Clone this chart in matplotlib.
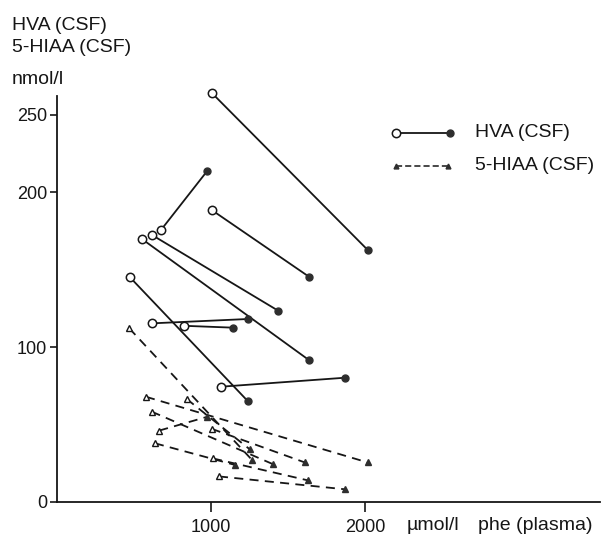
import matplotlib
matplotlib.use('Agg')
import matplotlib.pyplot as plt

# HVA (CSF): open circle = start, filled circle = end
hva_phe_start = [1005, 675, 1005, 552, 617, 474, 619, 827, 1065]
hva_start = [264, 175.5, 188.4, 169.7, 172.3, 145, 115.3, 113.7, 74.4]
hva_phe_end = [2018, 976, 1636, 1636, 1437, 1238, 1242, 1145, 1870]
hva_end = [162.6, 213.7, 145.4, 91.6, 123.4, 65.2, 118.1, 112.5, 80.2]

# 5-HIAA (CSF): open triangle = start, filled triangle = end
hiaa_phe_start = [469, 578, 615, 664, 636, 842, 1005, 1013, 1052]
hiaa_start = [112.1, 67.9, 58.3, 46.1, 37.9, 66.5, 47.2, 28.1, 16.5]
hiaa_phe_end = [1264, 2018, 1405, 976, 1156, 1253, 1610, 1632, 1870]
hiaa_end = [27.4, 25.5, 24.3, 55.0, 23.9, 33.9, 25.5, 13.9, 8.2]

y_ticks = [0, 100, 200, 250]
x_ticks = [1000, 2000]

INK = '#161616'
FILL = '#2e2e2e'
plt.rcParams['font.family'] = ['Liberation Sans', 'DejaVu Sans']

fig = plt.figure(figsize=(6.02, 5.4), dpi=100)
fig.patch.set_facecolor('white')
# axes: x=0 at 57px, y=0 at 502px, 1.55 px per nmol/l
ax = fig.add_axes([57 / 602, 38 / 540, 543 / 602, 406 / 540])

for x0, y0, x1, y1 in zip(hva_phe_start, hva_start, hva_phe_end, hva_end):
    ax.plot([x0, x1], [y0, y1], color=INK, lw=1.3, zorder=2, clip_on=False)
    ax.plot(x0, y0, 'o', ms=6, mfc='white', mec=INK, mew=1.1, zorder=3, clip_on=False)
    ax.plot(x1, y1, 'o', ms=5, mfc=FILL, mec=FILL, zorder=3, clip_on=False)

for x0, y0, x1, y1 in zip(hiaa_phe_start, hiaa_start, hiaa_phe_end, hiaa_end):
    ax.plot([x0, x1], [y0, y1], color=INK, lw=1.3, dashes=(5, 3.5), zorder=2)
    ax.plot(x0, y0, '^', ms=5, mfc='white', mec=INK, mew=1.0, zorder=3)
    ax.plot(x1, y1, '^', ms=5, mfc=FILL, mec=FILL, zorder=3)

ax.set_xlim(0, 3526)
ax.set_ylim(0, 262)
for s in ['top', 'right']:
    ax.spines[s].set_visible(False)
for s in ['left', 'bottom']:
    ax.spines[s].set_color(INK)
    ax.spines[s].set_linewidth(1.3)

ax.set_yticks(y_ticks)
ax.set_yticklabels([str(v) for v in y_ticks], fontsize=13, color=INK)
ax.set_xticks(x_ticks)
ax.set_xticklabels([str(v) for v in x_ticks], fontsize=13, color=INK)
ax.tick_params(axis='both', direction='out', width=1.2, color=INK)
ax.tick_params(axis='y', length=5, pad=2)
ax.tick_params(axis='x', length=7, pad=5)

# legend, drawn by hand (open start / filled end)
tr = ax.transAxes
ax.plot([0.625, 0.724], [0.9096, 0.9096], color=INK, lw=1.3, transform=tr, clip_on=False)
ax.plot(0.625, 0.9096, 'o', ms=6, mfc='white', mec=INK, mew=1.1, transform=tr, clip_on=False)
ax.plot(0.724, 0.9096, 'o', ms=5, mfc=FILL, mec=FILL, transform=tr, clip_on=False)
ax.text(0.770, 0.9096, 'HVA (CSF)', transform=tr, fontsize=14, color=INK, va='center')
ax.plot([0.625, 0.72], [0.8276, 0.8276], color=INK, lw=1.1, dashes=(4, 2), transform=tr, clip_on=False)
ax.plot(0.625, 0.8276, '^', ms=3.5, mfc=FILL, mec=FILL, transform=tr, clip_on=False)
ax.plot(0.72, 0.8276, '^', ms=3.5, mfc=FILL, mec=FILL, transform=tr, clip_on=False)
ax.text(0.770, 0.8276, '5-HIAA (CSF)', transform=tr, fontsize=14, color=INK, va='center')

# axis titles
fig.text(12 / 602, 1 - 26 / 540, 'HVA (CSF)', fontsize=14, color=INK, va='center')
fig.text(12 / 602, 1 - 48 / 540, '5-HIAA (CSF)', fontsize=14, color=INK, va='center')
fig.text(12 / 602, 1 - 79 / 540, 'nmol/l', fontsize=14, color=INK, va='center')
fig.text(407 / 602, 1 - 525 / 540, 'µmol/l', fontsize=14, color=INK, va='center')
fig.text(478 / 602, 1 - 525 / 540, 'phe (plasma)', fontsize=14, color=INK, va='center')

fig.savefig('out.png', dpi=100, facecolor='white')
